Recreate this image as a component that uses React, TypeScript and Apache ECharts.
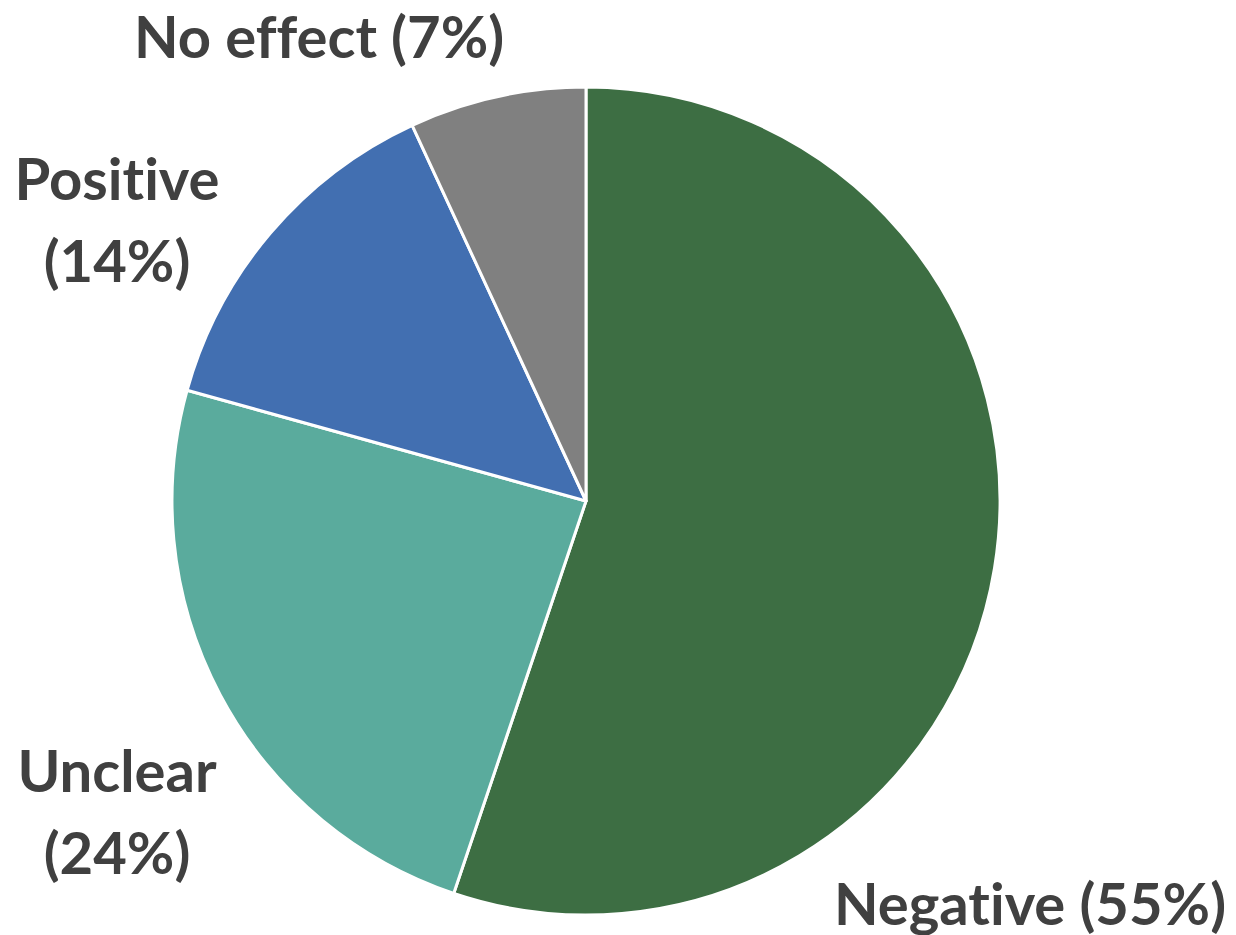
import React, { useEffect, useRef } from "react";
import * as echarts from "echarts";

const categories = ["Negative", "Unclear", "Positive", "No effect"];
const values = [16, 7, 4, 2];
const colors = ["#3d6e43", "#5aab9d", "#426fb1", "#808080"];
const wrapLabel = [false, true, true, false];
// label anchor positions (layout only)
const labelPos: [number, number][] = [
  [1030, 902],
  [117, 810],
  [117, 218],
  [319, 35],
];

export default function App() {
  const ref = useRef<HTMLDivElement>(null);
  useEffect(() => {
    document.body.style.margin = "0";
    const chart = echarts.init(ref.current!, null, { renderer: "svg" });
    chart.setOption({
      animation: false,
      backgroundColor: "#ffffff",
      series: [
        {
          type: "pie",
          center: [586, 501],
          radius: 414,
          startAngle: 90,
          clockwise: true,
          itemStyle: { borderColor: "#ffffff", borderWidth: 3 },
          label: {
            show: true,
            position: "outside",
            formatter: (p: any) =>
              p.name + (wrapLabel[p.dataIndex] ? "\n" : " ") + "(" + Math.round(p.percent) + "%)",
            color: "#404040",
            fontFamily: "Lato",
            fontWeight: "bold",
            fontSize: 58,
            lineHeight: 82,
            align: "center",
            overflow: "none",
          },
          labelLine: { show: false },
          labelLayout: (params: any) => ({
            x: labelPos[params.dataIndex][0],
            y: labelPos[params.dataIndex][1],
            align: "center",
            verticalAlign: "middle",
          }),
          data: categories.map((c, i) => ({
            name: c,
            value: values[i],
            itemStyle: { color: colors[i] },
          })),
        },
      ],
    });
    return () => chart.dispose();
  }, []);
  return (
    <>
      <style>{`svg text { font-variant-ligatures: none; font-feature-settings: "liga" 0, "clig" 0; }`}</style>
      <div ref={ref} style={{ width: 1236, height: 935 }} />
    </>
  );
}
